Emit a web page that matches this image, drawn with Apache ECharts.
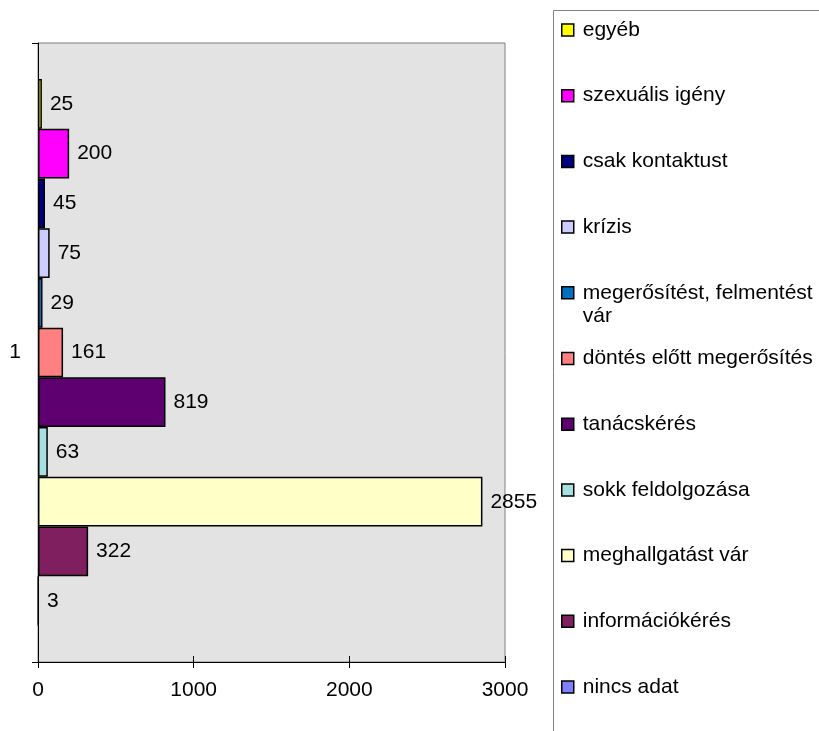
<!DOCTYPE html>
<html>
<head>
<meta charset="utf-8">
<script src="https://cdn.jsdelivr.net/npm/echarts@6/dist/echarts.min.js"></script>
<style>
html,body{margin:0;padding:0;background:#fff;}
#chart{width:819px;height:731px;}
</style>
</head>
<body>
<div id="chart"></div>
<script>
const categories = ['1'];
const seriesNames = [
  'egyéb',
  'szexuális igény',
  'csak kontaktust',
  'krízis',
  'megerősítést, felmentést vár',
  'döntés előtt megerősítés',
  'tanácskérés',
  'sokk feldolgozása',
  'meghallgatást vár',
  'információkérés',
  'nincs adat'
];
const seriesValues = [25, 200, 45, 75, 29, 161, 819, 63, 2855, 322, 3];
const xTickMin = 0, xTickMax = 3000, xTickStep = 1000;

const seriesColors = ['#FFFF00', '#FF00FF', '#000080', '#CCCCFF', '#0070C0', '#FF8080',
                      '#5F0070', '#A6E0E0', '#FFFFC8', '#7F1F5F', '#8080FF'];

const FONT = "'Liberation Sans', Arial, sans-serif";
const FS = 21;
const chart = echarts.init(document.getElementById('chart'));

const legendLineH = 23;
const legends = seriesNames.map((n, i) => {
  const center = 30 + i * 65.7;
  const twoLine = n === 'megerősítést, felmentést vár';
  return {
    data: [n],
    orient: 'vertical',
    left: 561,
    top: twoLine ? center - legendLineH * 1.5 : center - legendLineH / 2,
    padding: 0,
    itemWidth: 12,
    itemHeight: 12,
    icon: 'rect',
    selectedMode: false,
    itemStyle: { borderColor: '#000', borderWidth: 1.5 },
    formatter: twoLine ? () => '\nmegerősítést, felmentést\nvár' : undefined,
    textStyle: { fontFamily: FONT, fontSize: FS, color: '#000', lineHeight: legendLineH, padding: [0, 0, 0, 4] }
  };
});

chart.setOption({
  animation: false,
  backgroundColor: '#fff',
  graphic: [{
    type: 'rect',
    shape: { x: 553.5, y: 10.5, width: 400, height: 900 },
    style: { fill: 'none', stroke: '#808080', lineWidth: 1 },
    silent: true
  }],
  legend: legends,
  grid: {
    left: 38, right: 314, top: 43, bottom: 69,
    show: true, backgroundColor: '#E3E3E3', borderColor: '#808080', borderWidth: 1
  },
  xAxis: [{
    type: 'value', min: xTickMin, max: xTickMax, interval: xTickStep,
    axisLine: { show: true, lineStyle: { color: '#000', width: 1 } },
    axisTick: { show: true, length: 6, lineStyle: { color: '#000' } },
    axisLabel: { fontFamily: FONT, fontSize: FS, color: '#000', margin: 18, formatter: v => String(v) },
    splitLine: { show: false }
  }, {
    type: 'value', min: xTickMin, max: xTickMax, interval: xTickStep, position: 'bottom',
    axisLine: { show: false },
    axisTick: { show: true, inside: true, length: 6, lineStyle: { color: '#000' } },
    axisLabel: { show: false },
    splitLine: { show: false }
  }],
  yAxis: {
    type: 'category', data: categories,
    axisLine: { show: true, lineStyle: { color: '#000', width: 1 } },
    axisTick: { show: true, length: 6, lineStyle: { color: '#000' } },
    axisLabel: { fontFamily: FONT, fontSize: FS, color: '#000', margin: 17 }
  },
  series: seriesNames.map((n, i) => ({
    name: n,
    type: 'bar',
    xAxisIndex: 0,
    data: [seriesValues[i]],
    barGap: '0%',
    barCategoryGap: '11.6%',
    itemStyle: { color: seriesColors[i], borderColor: '#000', borderWidth: 1.5 },
    label: { show: true, position: 'right', distance: 8, fontFamily: FONT, fontSize: FS, color: '#000' }
  }))
});
</script>
</body>
</html>
